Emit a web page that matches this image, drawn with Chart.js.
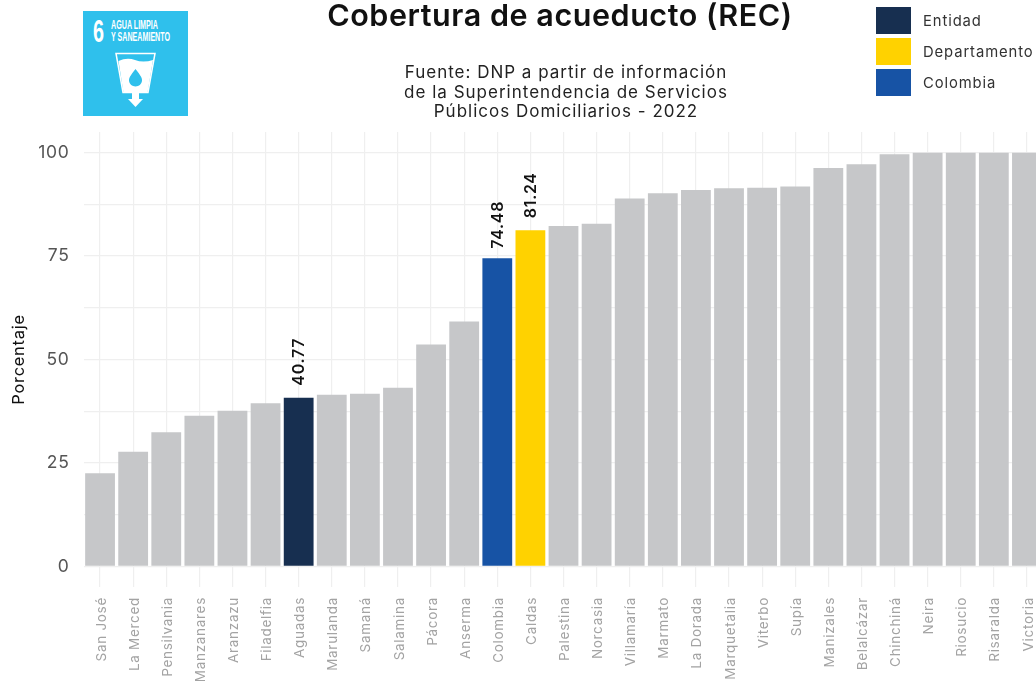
<!DOCTYPE html>
<html>
<head>
<meta charset="utf-8">
<script src="https://cdn.jsdelivr.net/npm/chart.js@4"></script>
<style>
html,body{margin:0;padding:0;background:#fff;overflow:hidden;width:1036px;height:685px;font-family:Inter,sans-serif}
#wrap{position:absolute;left:0;top:0;width:1060px;height:685px}
.t{position:absolute;white-space:nowrap}
#title{left:260px;width:600px;top:-3px;text-align:center;font-size:30.5px;font-weight:600;letter-spacing:.55px;color:#111;line-height:36px}
#sub{left:316px;width:500px;top:63px;text-align:center;font-size:17px;letter-spacing:1px;color:#222;line-height:19.5px}
.sw{position:absolute;left:876px;width:35px;height:27px}
.lg{position:absolute;left:923px;font-size:14.8px;letter-spacing:.9px;color:#333;line-height:18px}
#logo{position:absolute;left:83px;top:10.5px;width:105px;height:105px}
</style>
</head>
<body>
<div id="wrap"><canvas id="c" width="1060" height="685" style="display:block"></canvas></div>
<div class="t" id="title">Cobertura de acueducto (REC)</div>
<div class="t" id="sub">Fuente: DNP a partir de información<br>de la Superintendencia de Servicios<br>Públicos Domiciliarios - 2022</div>
<div class="sw" style="top:7px;background:#172f50"></div>
<div class="sw" style="top:38px;background:#ffd200"></div>
<div class="sw" style="top:69px;background:#1753a5"></div>
<div class="t lg" style="top:12px">Entidad</div>
<div class="t lg" style="top:43px">Departamento</div>
<div class="t lg" style="top:74px">Colombia</div>
<svg id="logo" viewBox="0 0 105 105">
<rect width="105" height="105" fill="#2fc0ec"/>
<text x="10" y="31" font-family="Liberation Sans" font-weight="700" font-size="31" fill="#fff" textLength="11" lengthAdjust="spacingAndGlyphs">6</text>
<text x="28" y="17.5" font-family="Liberation Sans" font-weight="700" font-size="12" fill="#fff" textLength="47" lengthAdjust="spacingAndGlyphs">AGUA LIMPIA</text>
<text x="28" y="29.5" font-family="Liberation Sans" font-weight="700" font-size="12" fill="#fff" textLength="59" lengthAdjust="spacingAndGlyphs">Y SANEAMIENTO</text>
<path d="M33 42.5H72L65 81.5H40Z" fill="none" stroke="#fff" stroke-width="1.5"/>
<path d="M35.5 50Q44 46 52 49T70 49L64.5 81.5H40.5Z" fill="#fff"/>
<path d="M52.5 58Q60 67 59 70A6.6 6.6 0 0 1 46 70Q45 67 52.5 58Z" fill="#2fc0ec"/>
<path d="M49 82H56V88H60L52.5 96L45 88H49Z" fill="#fff"/>
</svg>
<script>
const categories = ["San José","La Merced","Pensilvania","Manzanares","Aranzazu","Filadelfia","Aguadas","Marulanda","Samaná","Salamina","Pácora","Anserma","Colombia","Caldas","Palestina","Norcasia","Villamaría","Marmato","La Dorada","Marquetalia","Viterbo","Supía","Manizales","Belalcázar","Chinchiná","Neira","Riosucio","Risaralda","Victoria"];
const values = [22.5,27.7,32.4,36.4,37.6,39.4,40.77,41.5,41.7,43.2,53.6,59.2,74.48,81.24,82.3,82.8,88.9,90.2,91.0,91.4,91.5,91.8,96.3,97.2,99.6,100,100,100,100];
const highlights = {"Aguadas":"#172f50","Colombia":"#1753a5","Caldas":"#ffd200"};
const defaultColor = "#c6c7c9";
const majorTicks = [0,25,50,75,100];
const minorTicks = [12.5,37.5,62.5,87.5];
const labelled = {"Aguadas":12,"Colombia":9.5,"Caldas":12};

const spacing = {
  id:"spacing",
  beforeLayout(chart){chart.ctx.letterSpacing="0.7px";},
  beforeDraw(chart){chart.ctx.letterSpacing="0.7px";}
};
const valueLabels = {
  id:"valueLabels",
  afterDatasetsDraw(chart){
    const {ctx,scales:{x,y}} = chart;
    ctx.save();
    ctx.font = "600 16px Inter, sans-serif";
    ctx.fillStyle = "#111";
    Object.keys(labelled).forEach(name=>{
      const i = categories.indexOf(name);
      ctx.save();
      ctx.translate(x.getPixelForValue(i)+1, y.getPixelForValue(values[i])-labelled[name]);
      ctx.rotate(-Math.PI/2);
      ctx.textAlign="left"; ctx.textBaseline="middle";
      ctx.fillText(values[i].toFixed(2),0,0);
      ctx.restore();
    });
    ctx.restore();
  }
};

new Chart(document.getElementById("c"),{
  type:"bar",
  data:{labels:categories,datasets:[{
    data:values,
    backgroundColor:categories.map(c=>highlights[c]||defaultColor),
    barPercentage:0.9,categoryPercentage:1
  }]},
  plugins:[spacing,valueLabels],
  options:{
    responsive:false,animation:false,
    layout:{padding:{left:0,right:16.5,top:132,bottom:0}},
    plugins:{legend:{display:false},tooltip:{enabled:false},title:{display:false}},
    scales:{
      x:{
        afterFit(s){s.height=98;},
        grid:{color:"#efefef",lineWidth:1.2,drawTicks:false,offset:false},
        border:{display:false},
        ticks:{autoSkip:false,minRotation:90,maxRotation:90,padding:10,labelOffset:1.5,color:"#a3a3a3",font:{size:13.5,family:"Inter, sans-serif"}}
      },
      y:{
        min:-5,max:105,
        afterBuildTicks(s){s.ticks=[...majorTicks,...minorTicks].sort((a,b)=>a-b).map(v=>({value:v}));},
        afterFit(s){s.width=83.5;},
        title:{display:true,text:"Porcentaje",color:"#111",font:{size:16.5,family:"Inter, sans-serif"},padding:{top:9,bottom:0}},
        grid:{color:"#efefef",lineWidth:1.2,drawTicks:false},
        border:{display:false},
        ticks:{padding:14,color:"#555",font:{size:17.5,family:"Inter, sans-serif"},callback:v=>majorTicks.includes(v)?String(v):""}
      }
    }
  }
});
</script>
</body>
</html>
